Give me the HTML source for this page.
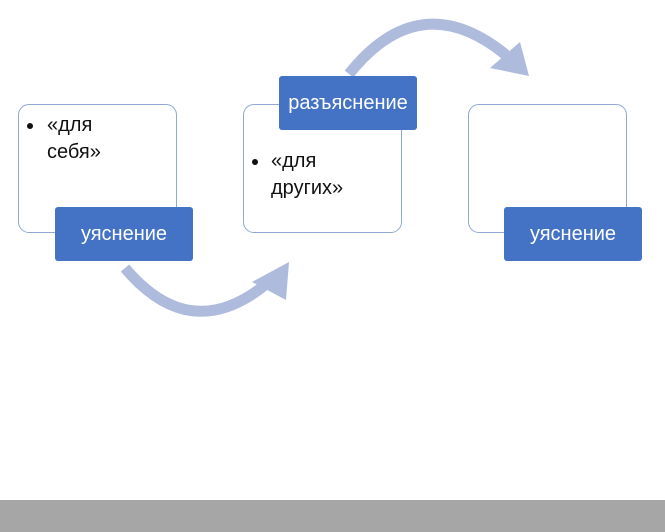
<!DOCTYPE html>
<html><head><meta charset="utf-8"><style>
body{margin:0;width:665px;height:532px;background:#fff;position:relative;overflow:hidden;font-family:"Liberation Sans","DejaVu Sans",sans-serif}
.box{position:absolute;width:159px;height:129px;border:1.3px solid #8fa8d4;border-radius:11px;background:#fff;box-sizing:border-box}
.lab{position:absolute;width:138px;height:54px;background:#4472c4;border-radius:3px;color:#fff;font-size:20px;display:flex;align-items:center;justify-content:center}
.txt{position:absolute;font-size:20px;line-height:27px;color:#111}
.bul{position:absolute;width:6px;height:6px;border-radius:50%;background:#111}
</style></head><body>
<svg width="665" height="532" style="position:absolute;left:0;top:0">
<path d="M125,268 Q190,345 265,285" fill="none" stroke="#aebbdc" stroke-width="11"/>
<polygon points="289,262 286,300 252,282" fill="#aebbdc"/>
<path d="M349,74 Q420,-15 506,55" fill="none" stroke="#aebbdc" stroke-width="11"/>
<polygon points="529,76 490,68 520,42" fill="#aebbdc"/>
</svg>
<div class="box" style="left:18px;top:104px"></div>
<div class="box" style="left:243px;top:104px"></div>
<div class="box" style="left:468px;top:104px"></div>
<div class="bul" style="left:27px;top:123px"></div>
<div class="txt" style="left:47px;top:112px">«для<br>себя»</div>
<div class="bul" style="left:252px;top:159px"></div>
<div class="txt" style="left:271px;top:148px">«для<br>других»</div>
<div class="lab" style="left:55px;top:207px">уяснение</div>
<div class="lab" style="left:279px;top:76px">разъяснение</div>
<div class="lab" style="left:504px;top:207px">уяснение</div>
<div style="position:absolute;left:0;top:500px;width:665px;height:32px;background:#a6a6a6"></div>
</body></html>
